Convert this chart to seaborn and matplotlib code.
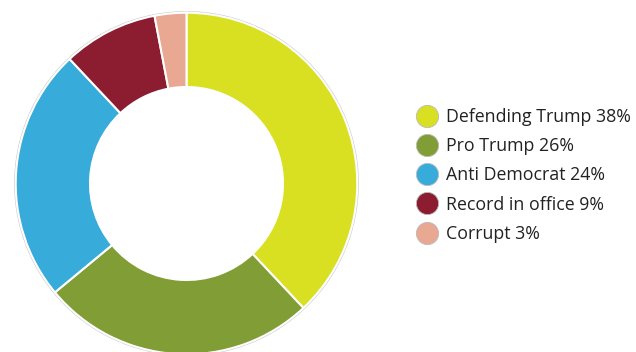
import matplotlib
matplotlib.use("Agg")
import matplotlib.pyplot as plt
from matplotlib.lines import Line2D
from matplotlib.patches import Circle
import seaborn as sns

categories = ["Defending Trump", "Pro Trump", "Anti Democrat", "Record in office", "Corrupt"]
shares = [38, 26, 24, 9, 3]
colors = ["#d9e021", "#819d35", "#37abd9", "#8c1d31", "#e8a892"]

sns.set_theme(style="white")
plt.rcParams["font.family"] = ["Open Sans", "DejaVu Sans"]

fig = plt.figure(figsize=(6.36, 3.52), dpi=100)
ax = fig.add_axes([14 / 636, (352 - 183.5 - 172.5) / 352, 345 / 636, 345 / 352])

ax.pie(
    shares,
    colors=colors,
    startangle=90,
    counterclock=False,
    radius=1.0,
    wedgeprops=dict(width=0.435, edgecolor="white", linewidth=1.5),
)
ax.add_patch(Circle((0, 0), 1.005, fill=False, edgecolor="#c8c8c8", linewidth=1.0, zorder=0))
ax.set_xlim(-1.01, 1.01)
ax.set_ylim(-1.01, 1.01)
ax.set_aspect("equal")
ax.axis("off")

handles = [
    Line2D([], [], marker="o", linestyle="none", markersize=16,
           markerfacecolor=c, markeredgecolor="#bbbbbb", markeredgewidth=0.6)
    for c in colors
]
labels = [f"{c} {v}%" for c, v in zip(categories, shares)]
fig.legend(
    handles, labels,
    loc="center left", bbox_to_anchor=(405 / 636, (352 - 175.5) / 352),
    frameon=False, fontsize=12.8, handletextpad=0.3, labelspacing=0.63,
    handlelength=1.5, borderpad=0, labelcolor="#222222",
)

fig.savefig("out.png", dpi=100, facecolor="white")
